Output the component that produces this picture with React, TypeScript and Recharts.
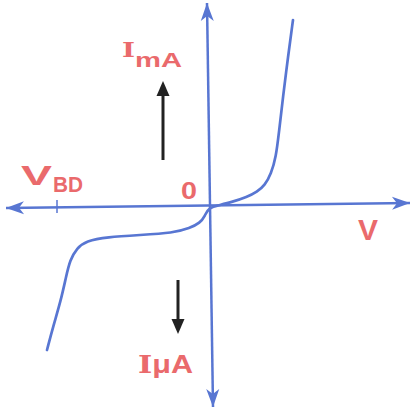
import React from "react";
import { LineChart, Line, XAxis, YAxis, ReferenceLine } from "recharts";

// Diode I-V characteristic (arbitrary units: V horizontal, I vertical)
const voltage = [
  -16.2, -15.6, -14.8, -14.3, -13.9, -13.2, -12.3, -10.2, -6.9, -3.6, -1.9, -0.9, -0.4, -0.1,
  1.1, 2.3, 3.8, 4.8, 5.6, 6.2, 6.7, 7.0, 7.4, 7.9, 8.4,
];
const current = [
  -14.3, -12.0, -9.3, -7.0, -5.3, -4.1, -3.4, -3.0, -2.8, -2.6, -2.1, -1.6, -0.9, -0.1,
  0.2, 0.5, 1.0, 1.5, 2.2, 3.3, 5.0, 7.5, 11.0, 15.0, 18.7,
];
const xDomain = [-20.9, 20.4];
const yDomain = [-20.3, 20.7];
// axis extents (data units)
const hAxis = [{ x: -20.3, y: -0.1 }, { x: 20.1, y: 0.4 }];
const vAxis = [{ x: 0.4, y: -20.0 }, { x: -0.2, y: 20.4 }];
const bdTick = [{ x: -15.2, y: -0.6 }, { x: -15.2, y: 0.7 }];
const upArrow = [{ x: -4.6, y: 4.7 }, { x: -4.6, y: 12.6 }];
const downArrow = [{ x: -3.1, y: -7.3 }, { x: -3.1, y: -12.7 }];

const data = voltage.map((v, i) => ({ v, i: current[i] }));

const BLUE = "#5876d2";
const RED = "#ea6a6c";

function head(x1: number, y1: number, x2: number, y2: number, len: number, half: number, notch: number) {
  const dx = x2 - x1;
  const dy = y2 - y1;
  const d = Math.hypot(dx, dy) || 1;
  const ux = dx / d;
  const uy = dy / d;
  const px = -uy;
  const py = ux;
  const bx = x2 - ux * len;
  const by = y2 - uy * len;
  const nx = x2 - ux * (len - notch);
  const ny = y2 - uy * (len - notch);
  return `M${x2},${y2} L${bx + px * half},${by + py * half} L${nx},${ny} L${bx - px * half},${by - py * half} Z`;
}

const DoubleArrow = (props: any) => {
  const { x1, y1, x2, y2 } = props;
  return (
    <g>
      <line x1={x1} y1={y1} x2={x2} y2={y2} stroke={BLUE} strokeWidth={2.5} />
      <path d={head(x1, y1, x2, y2, 18, 6.5, 5)} fill={BLUE} />
      <path d={head(x2, y2, x1, y1, 18, 6.5, 5)} fill={BLUE} />
    </g>
  );
};

const BlackArrow = (props: any) => {
  const { x1, y1, x2, y2 } = props;
  const dy = y2 - y1;
  const s = dy > 0 ? 1 : -1;
  return (
    <g>
      <line x1={x1} y1={y1} x2={x2} y2={y2 - s * 10} stroke="#222" strokeWidth={3} />
      <path d={head(x1, y1, x2, y2, 15, 6.5, 0)} fill="#222" />
    </g>
  );
};

export default function App() {
  return (
    <div style={{ position: "absolute", left: 0, top: 0, width: 413, height: 410, background: "#fff" }}>
      <LineChart width={413} height={410} data={data} margin={{ top: 0, right: 0, bottom: 0, left: 0 }}>
        <XAxis type="number" dataKey="v" domain={xDomain} hide allowDataOverflow />
        <YAxis type="number" dataKey="i" domain={yDomain} hide allowDataOverflow />
        <ReferenceLine segment={hAxis} shape={DoubleArrow} ifOverflow="visible" />
        <ReferenceLine segment={vAxis} shape={DoubleArrow} ifOverflow="visible" />
        <ReferenceLine segment={upArrow} shape={BlackArrow} ifOverflow="visible" />
        <ReferenceLine segment={downArrow} shape={BlackArrow} ifOverflow="visible" />
        <ReferenceLine segment={bdTick} stroke={BLUE} strokeWidth={1.5} ifOverflow="visible" />
        <Line
          type="basis"
          dataKey="i"
          stroke={BLUE}
          strokeWidth={2.7}
          strokeLinecap="round"
          dot={false}
          activeDot={false}
          isAnimationActive={false}
        />
        <g fill={RED} fontWeight="bold">
          <text x={122} y={57} fontFamily="DejaVu Serif" fontSize={20} textLength={13} lengthAdjust="spacingAndGlyphs">I</text>
          <text x={135} y={67} fontFamily="Liberation Sans" fontSize={21} textLength={47} lengthAdjust="spacingAndGlyphs">mA</text>
          <text x={21} y={185} fontFamily="Liberation Sans" fontSize={28} textLength={31} lengthAdjust="spacingAndGlyphs">V</text>
          <text x={53} y={192} fontFamily="Liberation Sans" fontSize={22} textLength={30} lengthAdjust="spacingAndGlyphs">BD</text>
          <text x={181} y={199} fontFamily="Liberation Sans" fontSize={23} textLength={16} lengthAdjust="spacingAndGlyphs">0</text>
          <text x={358} y={240} fontFamily="Liberation Sans" fontSize={29} textLength={20} lengthAdjust="spacingAndGlyphs">V</text>
          <text x={138} y={373} fontFamily="Liberation Sans" fontSize={25} textLength={55} lengthAdjust="spacingAndGlyphs">
            <tspan fontFamily="DejaVu Serif">I</tspan>μA
          </text>
        </g>
      </LineChart>
    </div>
  );
}
